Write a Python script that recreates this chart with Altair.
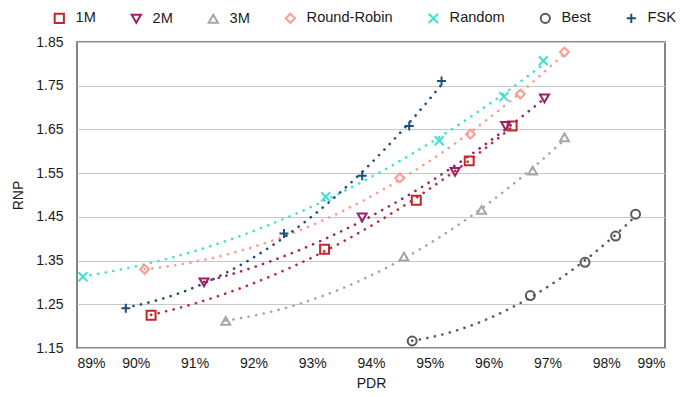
import altair as alt
import pandas as pd

series = ["1M", "2M", "3M", "Round-Robin", "Random", "Best", "FSK"]
colors = ["#C0282D", "#9B2167", "#A6A6A6", "#FF9A8E", "#40E0D0", "#595959", "#1F4E79"]
shapes = ["square", "triangle-down", "triangle-up", "diamond",
          "M-1,-1L1,1M-1,1L1,-1", "circle", "M-1,0L1,0M0,-1L0,1"]

pdr_1m = [90.26, 93.21, 94.77, 95.67, 96.40]
rnp_1m = [1.225, 1.376, 1.488, 1.578, 1.658]
pdr_2m = [91.16, 93.85, 95.43, 96.29, 96.95]
rnp_2m = [1.300, 1.449, 1.553, 1.658, 1.721]
pdr_3m = [91.53, 94.56, 95.88, 96.75, 97.29]
rnp_3m = [1.212, 1.359, 1.466, 1.556, 1.632]
pdr_rr = [90.15, 94.49, 95.69, 96.54, 97.29]
rnp_rr = [1.330, 1.539, 1.639, 1.731, 1.827]
pdr_rand = [89.10, 93.23, 95.16, 96.26, 96.93]
rnp_rand = [1.313, 1.496, 1.624, 1.725, 1.807]
pdr_best = [94.70, 96.71, 97.64, 98.16, 98.50]
rnp_best = [1.166, 1.270, 1.346, 1.406, 1.456]
pdr_fsk = [89.83, 92.52, 93.85, 94.65, 95.20]
rnp_fsk = [1.241, 1.412, 1.544, 1.658, 1.761]

x_ticks = [89, 90, 91, 92, 93, 94, 95, 96, 97, 98, 99]
y_ticks = [1.15, 1.25, 1.35, 1.45, 1.55, 1.65, 1.75, 1.85]

pairs = [(pdr_1m, rnp_1m), (pdr_2m, rnp_2m), (pdr_3m, rnp_3m), (pdr_rr, rnp_rr),
         (pdr_rand, rnp_rand), (pdr_best, rnp_best), (pdr_fsk, rnp_fsk)]
rows = []
for name, (xs, ys) in zip(series, pairs):
    for xv, yv in zip(xs, ys):
        rows.append({"series": name, "pdr": xv, "rnp": yv})
df = pd.DataFrame(rows)

xenc = alt.X("pdr:Q", title="PDR",
             scale=alt.Scale(domain=[89, 99], nice=False, zero=False),
             axis=alt.Axis(values=x_ticks, labelExpr="datum.value + '%'", grid=False,
                           ticks=False, domain=False, labelPadding=8, titlePadding=6))
yenc = alt.Y("rnp:Q", title="RNP",
             scale=alt.Scale(domain=[1.15, 1.85], nice=False, zero=False),
             axis=alt.Axis(values=y_ticks, format=".2f", grid=True, gridColor="#C8C8C8",
                           gridWidth=1.2, ticks=False, domain=False, labelPadding=14,
                           titlePadding=10))

color_scale = alt.Scale(domain=series, range=colors)
shape_scale = alt.Scale(domain=series, range=shapes)

lines = alt.Chart(df).transform_regression(
    "pdr", "rnp", groupby=["series"], method="poly", order=2
).mark_line(strokeDash=[0.1, 7.6], strokeCap="round", strokeWidth=2.6).encode(
    x=xenc, y=yenc,
    color=alt.Color("series:N", scale=color_scale, legend=None),
    detail="series:N",
)

legend = alt.Legend(title=None, orient="none", legendX=-25, legendY=-31,
                    direction="horizontal", columns=7, labelFontSize=14.6,
                    symbolSize=85, symbolStrokeWidth=2, labelOffset=9,
                    columnPadding=31, labelColor="#1a1a1a")

points = alt.Chart(df).mark_point(filled=False, strokeWidth=2, size=80, opacity=1).encode(
    x=xenc, y=yenc,
    color=alt.Color("series:N", scale=color_scale, legend=legend, sort=series),
    shape=alt.Shape("series:N", scale=shape_scale, legend=legend, sort=series),
)

chart = alt.layer(lines, points).resolve_legend(
    color="independent", shape="independent"
).properties(
    width=588, height=306,
    autosize=alt.AutoSizeParams(type="none"),
    padding={"left": 69, "top": 34, "right": 16, "bottom": 42},
).configure(
    font="Liberation Sans",
).configure_view(
    stroke="#5E5E5E", strokeWidth=1.5,
).configure_axis(
    labelFontSize=14, titleFontSize=14, labelColor="#1a1a1a", titleColor="#1a1a1a",
    titleFontWeight="normal", labelFont="Liberation Sans", titleFont="Liberation Sans",
)

chart.save("out.html", embed_options={"renderer": "svg", "actions": False})
